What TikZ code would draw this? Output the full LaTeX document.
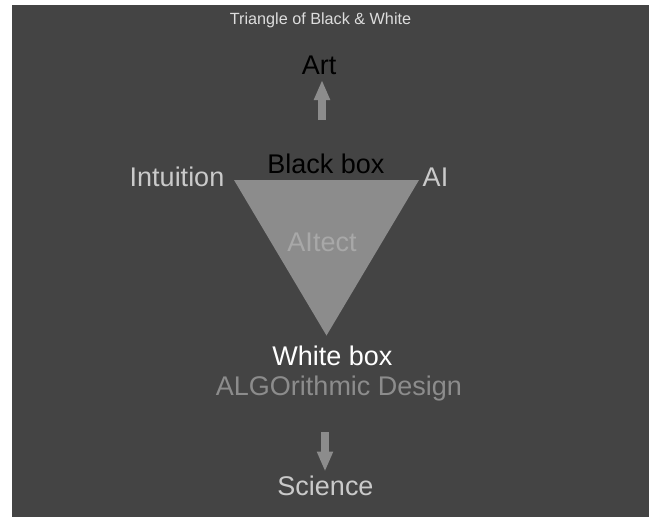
\documentclass[tikz,border=0pt]{standalone}
\usepackage{fontspec}
\setmainfont{Liberation Sans}
\usetikzlibrary{arrows.meta}
\definecolor{bgdark}{HTML}{444444}
\definecolor{trigray}{HTML}{8C8C8C}
\definecolor{lightlbl}{HTML}{CACACA}
\definecolor{titlecol}{HTML}{DDDDDD}
\definecolor{aitectcol}{HTML}{A8A8A8}
\tikzset{
  biglbl/.style={inner sep=0pt, anchor=base, font=\fontsize{27}{32}\selectfont},
  bigarrow/.style={draw=trigray, line width=8pt, -{Triangle[length=20pt,width=15pt]}}
}
\begin{document}
\begin{tikzpicture}[x=1pt,y=1pt]
  \useasboundingbox (0,0) rectangle (649,-517);
  \fill[white] (0,0) rectangle (649,-517);
  \fill[bgdark] (12,-5) rectangle (649,-517);
  % triangle
  \coordinate (tl) at (234,-180);
  \coordinate (tr) at (419,-180);
  \coordinate (bt) at (326.5,-335.5);
  \fill[trigray] (tl) -- (tr) -- (bt) -- cycle;
  % title
  \node[inner sep=0pt, anchor=base, text=titlecol, font=\fontsize{16.2}{19}\selectfont] (title) at (320.5,-24.5) {Triangle of Black \& White};
  % labels
  \node[biglbl, text=black] (art) at (319,-74) {Art};
  \node[biglbl, text=black] (black) at (326,-173.3) {Black box};
  \node[biglbl, text=lightlbl] (intuition) at (177,-186.7) {Intuition};
  \node[biglbl, text=lightlbl] (ai) at (435.5,-186) {AI};
  \node[biglbl, text=aitectcol] (aitect) at (322,-251.7) {AItect};
  \node[biglbl, text=white] (white) at (332.5,-365) {White box};
  \node[biglbl, text=trigray] (algo) at (339,-395) {ALGOrithmic Design};
  \node[biglbl, text=lightlbl] (science) at (325.5,-495) {Science};
  % arrows
  \coordinate (upstart) at (322,-120);
  \coordinate (uptip) at (322,-80);
  \draw[bigarrow] (upstart) -- (uptip);
  \coordinate (downstart) at (325,-432);
  \coordinate (downtip) at (325,-471.5);
  \draw[bigarrow] (downstart) -- (downtip);
\end{tikzpicture}
\end{document}
